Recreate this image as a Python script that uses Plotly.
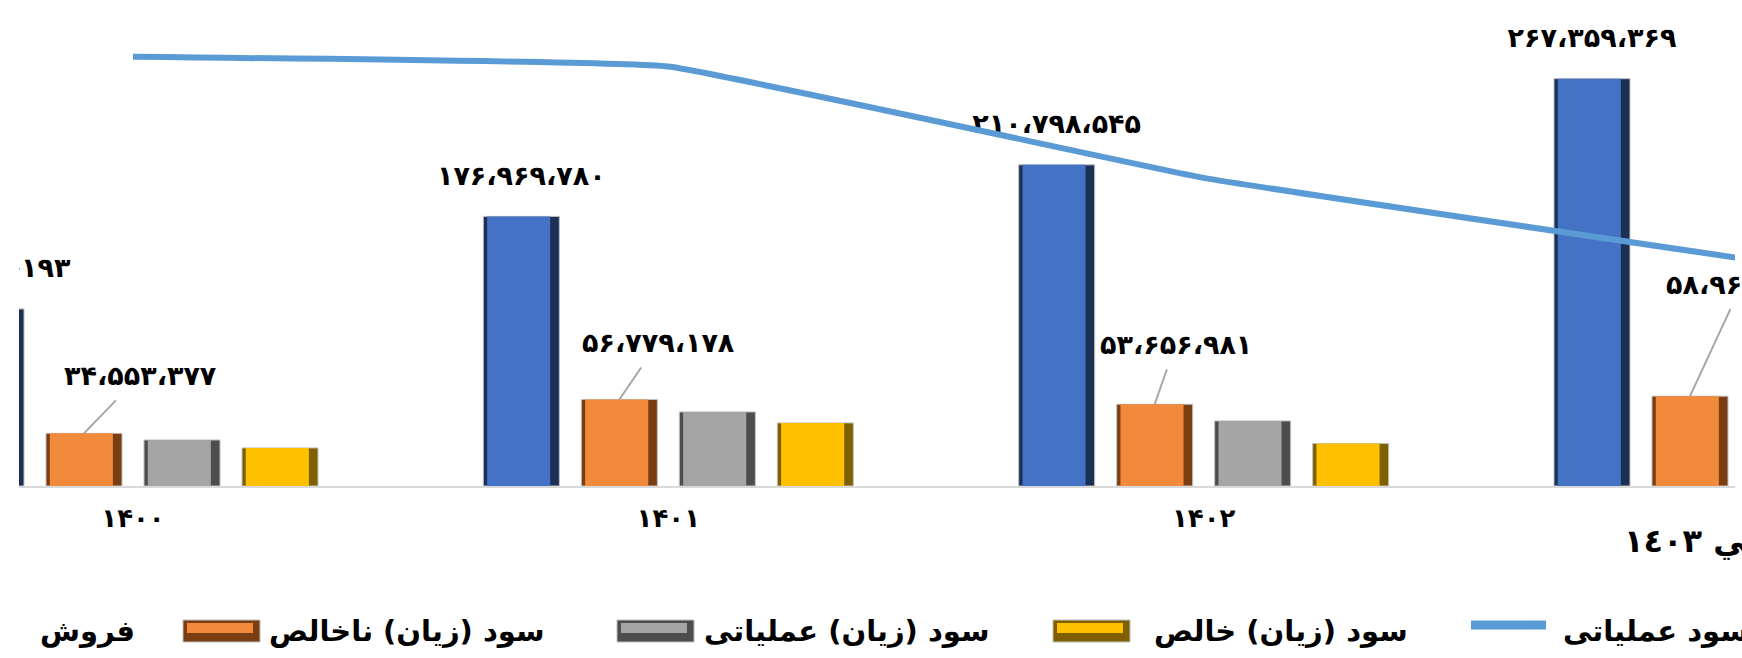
import plotly.graph_objects as go

# ---------------- data ----------------
years = ["۱۴۰۰", "۱۴۰۱", "۱۴۰۲", "۱۴۰۳"]
last_year_label = "پيش‌بيني ١٤٠٣"
series_names = ["فروش", "سود (زیان) ناخالص", "سود (زیان) عملیاتی", "سود (زیان) خالص"]
line_name = "سود عملیاتی"

sales = [116215193, 176969780, 210798545, 267359369]
gross_profit = [34553377, 56779178, 53656981, 58962450]
operating_profit = [30200000, 48600000, 42700000, 47500000]
net_profit = [25000000, 41400000, 27900000, 36000000]
operating_line = [88.3, 86.3, 63.4, 46.9]

# ---------------- style / layout constants ----------------
W, H = 1742, 658
ML, MR, MT, MB = 19, 7, 0, 172
PLOT_W = W - ML - MR
PLOT_H = H - MT - MB
CAT_PX = 535.33          # pixels per category
FIRST_CAT_PX = 133       # page x of first category centre
X0 = -(FIRST_CAT_PX - ML) / CAT_PX
X1 = X0 + PLOT_W / CAT_PX
SLOT = 98 / CAT_PX
BAR_W = 76 / CAT_PX
FONT = "DejaVu Sans"
LABEL_SIZE = 27
LEGEND_SIZE = 29

main_colors = ["#4472C4", "#F28A3C", "#A5A5A5", "#FFC000"]
dark_colors = ["#1C2F55", "#7A3E12", "#4D4D4D", "#7F6000"]
line_color = "#5B9BD5"

# offsets (px) of the orange data labels relative to the bar top
orange_label_offsets = [(56, -58), (39, -57), (21, -60), (52, -112)]


def fa_num(v):
    s = f"{v:,}"
    tr = str.maketrans("0123456789,", "۰۱۲۳۴۵۶۷۸۹،")
    return s.translate(tr)


def px_to_paper_x(px):
    return (px - ML) / PLOT_W


def px_to_paper_y(py):
    return (MT + PLOT_H - py) / PLOT_H


cats = list(range(len(years)))
all_series = [sales, gross_profit, operating_profit, net_profit]

fig = go.Figure()

for k, vals in enumerate(all_series):
    centre = (k - 1.5) * SLOT
    off = centre - BAR_W / 2
    fig.add_trace(go.Bar(
        x=cats, y=vals, width=BAR_W, offset=off,
        marker=dict(color=dark_colors[k], line=dict(color="#BFBFBF", width=1)),
        name=series_names[k], showlegend=False, hoverinfo="skip"))
    fig.add_trace(go.Bar(
        x=cats, y=vals, width=BAR_W * 0.83, offset=off + BAR_W * 0.05,
        marker=dict(color=main_colors[k], line=dict(width=0)),
        showlegend=False, hoverinfo="skip"))

fig.add_trace(go.Scatter(
    x=cats, y=operating_line, yaxis="y2", mode="lines",
    line=dict(color=line_color, width=6, shape="spline", smoothing=0.25),
    name=line_name, showlegend=False, hoverinfo="skip"))

# sales labels (clipped to plot area like the reference)
blue_centre = -1.5 * SLOT
fig.add_trace(go.Scatter(
    x=[c + blue_centre for c in cats], y=sales, mode="markers+text",
    marker=dict(size=38, color="rgba(0,0,0,0)"),
    text=[fa_num(v) for v in sales], textposition="top center",
    textfont=dict(family=FONT, size=LABEL_SIZE, color="black", weight="bold"),
    showlegend=False, hoverinfo="skip"))

annotations = []
orange_centre = -0.5 * SLOT
for i, v in enumerate(gross_profit):
    ax, ay = orange_label_offsets[i]
    annotations.append(dict(
        x=cats[i] + orange_centre, y=v, xref="x", yref="y",
        text=fa_num(v), showarrow=True, arrowhead=0, arrowwidth=2,
        arrowcolor="#A6A6A6", ax=ax, ay=ay, borderpad=9,
        font=dict(family=FONT, size=LABEL_SIZE, color="black", weight="bold")))

# last year's tick label (outside the visible axis range)
annotations.append(dict(
    x=(3 - X0) / (X1 - X0), y=px_to_paper_y(541), xref="paper", yref="paper",
    text=last_year_label, showarrow=False, xanchor="center", yanchor="middle",
    font=dict(family=FONT, size=32, color="black", weight="bold")))

# custom legend
shapes = []
legend_items = [
    ("bar", 0, -90, 38),
    ("bar", 1, 183, 267),
    ("bar", 2, 617, 702),
    ("bar", 3, 1053, 1152),
    ("line", None, 1467, 1561),
]
LEG_Y = 631
for kind, k, ix, tx in legend_items:
    if kind == "bar":
        shapes.append(dict(type="rect", xref="paper", yref="paper",
                           x0=px_to_paper_x(ix), x1=px_to_paper_x(ix + 77),
                           y0=px_to_paper_y(LEG_Y + 11), y1=px_to_paper_y(LEG_Y - 11),
                           fillcolor=dark_colors[k], line=dict(color="#BFBFBF", width=1)))
        shapes.append(dict(type="rect", xref="paper", yref="paper",
                           x0=px_to_paper_x(ix + 4), x1=px_to_paper_x(ix + 70),
                           y0=px_to_paper_y(LEG_Y + 2), y1=px_to_paper_y(LEG_Y - 8),
                           fillcolor=main_colors[k], line=dict(width=0)))
        name = series_names[k]
    else:
        shapes.append(dict(type="line", xref="paper", yref="paper",
                           x0=px_to_paper_x(ix + 4), x1=px_to_paper_x(ix + 79),
                           y0=px_to_paper_y(LEG_Y - 6), y1=px_to_paper_y(LEG_Y - 6),
                           line=dict(color=line_color, width=9)))
        name = line_name
    annotations.append(dict(
        x=px_to_paper_x(tx), y=px_to_paper_y(LEG_Y), xref="paper", yref="paper",
        text=name, showarrow=False, xanchor="left", yanchor="middle",
        font=dict(family=FONT, size=LEGEND_SIZE, color="black", weight="bold")))

fig.update_layout(
    width=W, height=H, autosize=False,
    margin=dict(l=ML, r=MR, t=MT, b=MB),
    paper_bgcolor="white", plot_bgcolor="white",
    barmode="overlay", showlegend=False,
    xaxis=dict(range=[X0, X1], tickvals=cats[:3], ticktext=years[:3],
               showgrid=False, zeroline=False, showline=True,
               linecolor="#D9D9D9", linewidth=2, ticks="",
               ticklabelstandoff=8,
               tickfont=dict(family=FONT, size=26, color="black", weight="bold")),
    yaxis=dict(range=[0, 319e6], visible=False, showgrid=False),
    yaxis2=dict(range=[0, 100], overlaying="y", visible=False, showgrid=False),
    annotations=annotations, shapes=shapes,
)

fig.write_html("out.html", config={"displayModeBar": False},
               post_script="document.body.style.margin='0';document.body.style.overflow='hidden';")
